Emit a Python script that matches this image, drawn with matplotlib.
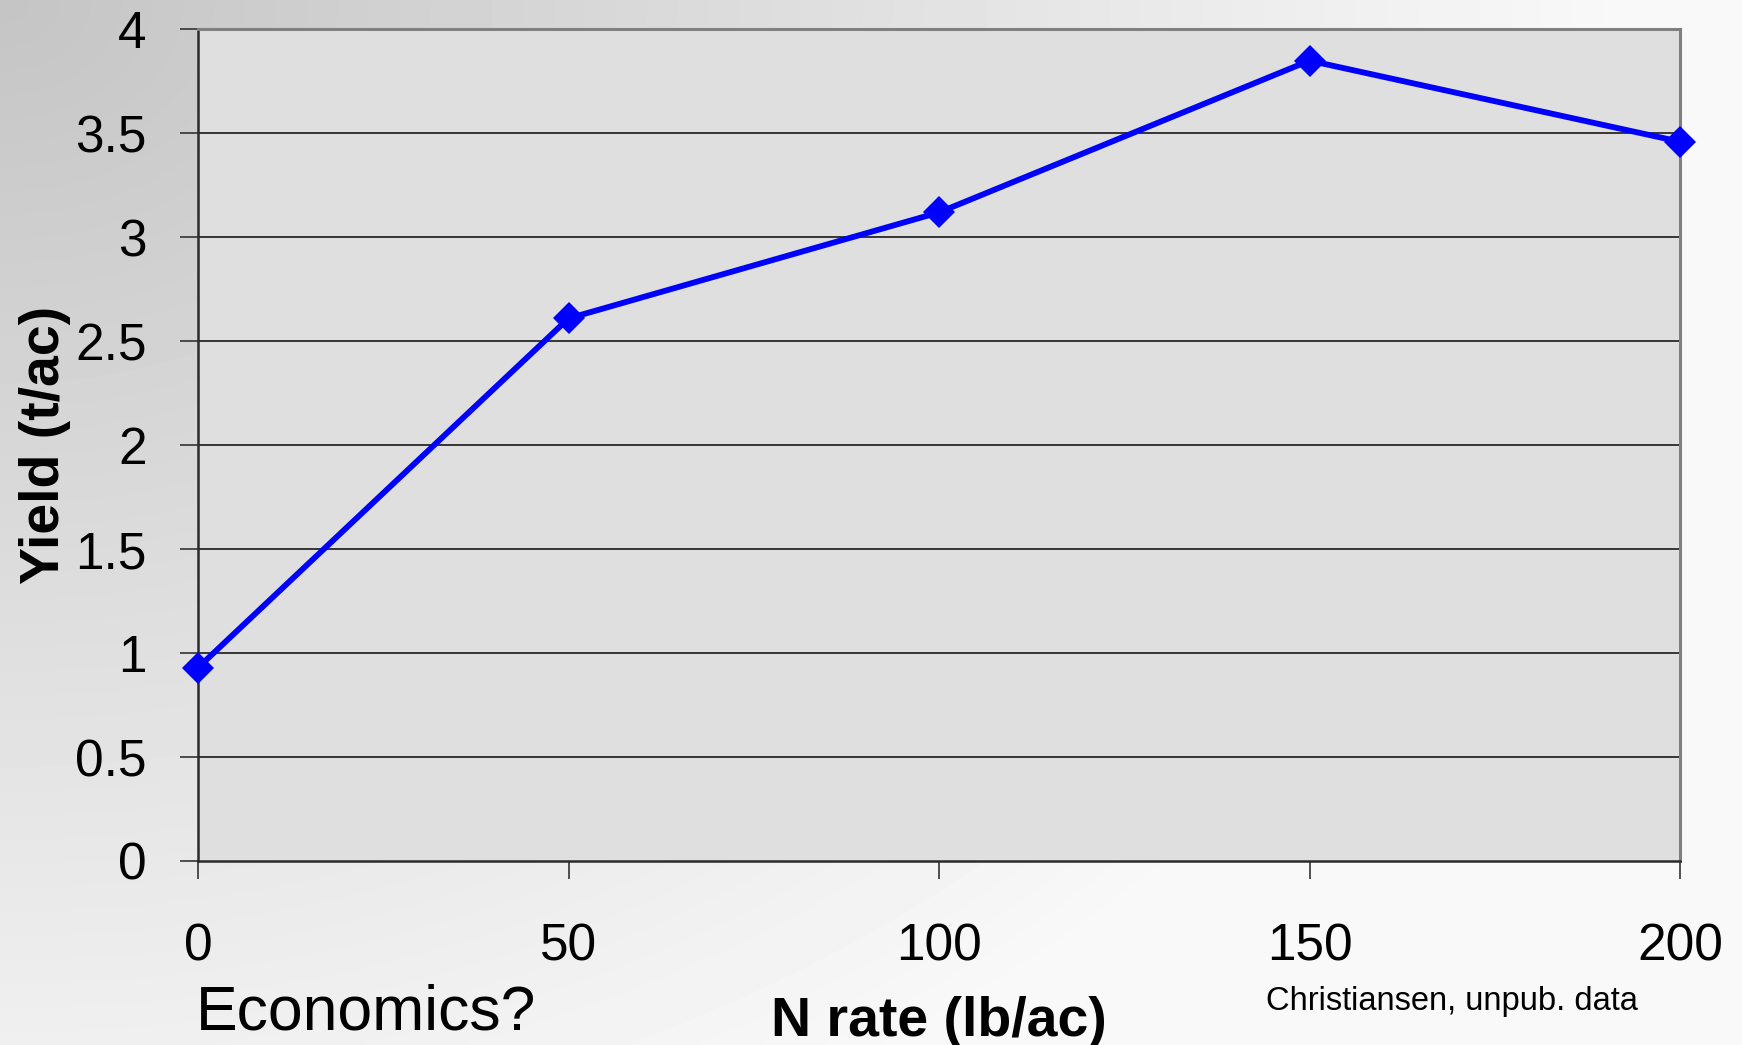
import numpy as np
import matplotlib
matplotlib.use("Agg")
import matplotlib.pyplot as plt

# data
n_rate = [0, 50, 100, 150, 200]
yield_tac = [0.93, 2.61, 3.12, 3.85, 3.46]
y_ticks = [0, 0.5, 1, 1.5, 2, 2.5, 3, 3.5, 4]
y_tick_labels = ["0", "0.5", "1", "1.5", "2", "2.5", "3", "3.5", "4"]
x_ticks = [0, 50, 100, 150, 200]
x_tick_labels = ["0", "50", "100", "150", "200"]

plt.rcParams['font.family'] = ['Liberation Sans', 'DejaVu Sans']

fig = plt.figure(figsize=(17.42, 10.45), dpi=100)

# slide background: grey in the top-left corner fading to near white
bg = fig.add_axes([0, 0, 1, 1], zorder=-10)
gx, gy = np.meshgrid(np.linspace(0, 1, 400), np.linspace(0, 1, 240))
r = np.sqrt(gx ** 2 + (gy / 1.3) ** 2)
shade = np.clip(0.77 + 0.22 * r, 0, 0.975)
bg.imshow(shade, cmap='gray', vmin=0, vmax=1, aspect='auto',
          extent=[0, 1, 1, 0], interpolation='bilinear')
bg.axis('off')

ax = fig.add_axes([0.1137, 0.1761, 0.8507, 0.7957])
ax.set_facecolor('#dfdfdf')

ax.plot(n_rate, yield_tac, color='#0000ff', linewidth=4.2, marker='D',
        markersize=16.5, markeredgewidth=0, clip_on=False, zorder=5)

ax.set_xlim(0, 200)
ax.set_ylim(0, 4)
ax.set_yticks(y_ticks)
ax.set_yticklabels(y_tick_labels)
ax.set_xticks(x_ticks)
ax.set_xticklabels(x_tick_labels)

for v in y_ticks[1:-1]:
    ax.axhline(v, color='#1a1a1a', linewidth=1.2, zorder=2)

ax.tick_params(axis='y', direction='out', length=13, width=1.2,
               color='#333333', pad=24, labelsize=37)
ax.tick_params(axis='x', direction='out', length=13, width=1.2,
               color='#333333', pad=31, labelsize=37)

for side in ['left', 'bottom']:
    ax.spines[side].set_color('#2a2a2a')
    ax.spines[side].set_linewidth(1.8)
for side in ['top', 'right']:
    ax.spines[side].set_color('#808080')
    ax.spines[side].set_linewidth(2.2)

ax.set_ylabel('Yield (t/ac)', fontsize=40, fontweight='bold')
ax.yaxis.set_label_coords(-0.086, 0.5)
ax.set_xlabel('N rate (lb/ac)', fontsize=40, fontweight='bold')
ax.xaxis.set_label_coords(0.5, -0.162)

fig.text(196 / 1742, 1 - 1030 / 1045, 'Economics?', fontsize=45,
         ha='left', va='baseline')
fig.text(1266 / 1742, 1 - 1010 / 1045, 'Christiansen, unpub. data',
         fontsize=23.5, ha='left', va='baseline')

fig.savefig('out.png', dpi=100)
